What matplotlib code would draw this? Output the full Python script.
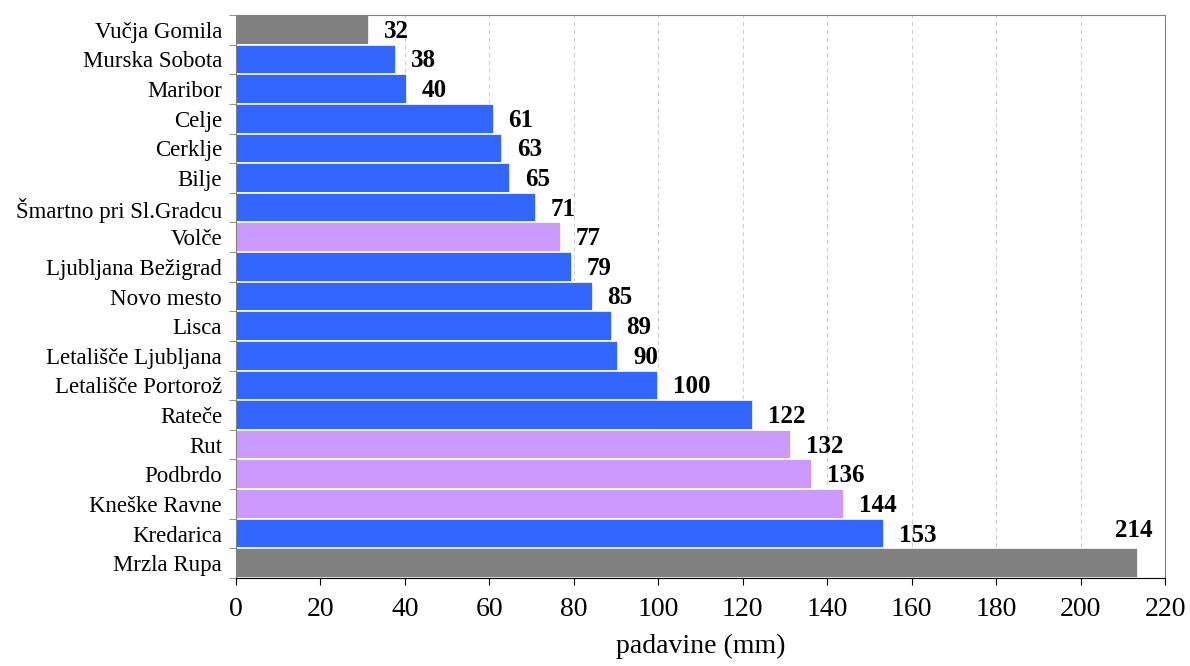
import matplotlib.pyplot as plt
import numpy as np

stations = ['Vučja Gomila', 'Murska Sobota', 'Maribor', 'Celje', 'Cerklje', 'Bilje',
            'Šmartno pri Sl.Gradcu', 'Volče', 'Ljubljana Bežigrad', 'Novo mesto', 'Lisca',
            'Letališče Ljubljana', 'Letališče Portorož', 'Rateče', 'Rut', 'Podbrdo',
            'Kneške Ravne', 'Kredarica', 'Mrzla Rupa']
values = [32, 38, 40, 61, 63, 65, 71, 77, 79, 85, 89, 90, 100, 122, 132, 136, 144, 153, 214]
exact = [31.5, 38, 40.5, 61, 63, 65, 71, 77, 79.5, 84.5, 89, 90.5, 100, 122.5, 131.5, 136.5, 144, 153.5, 213.5]
kinds = ['g', 'b', 'b', 'b', 'b', 'b', 'b', 'p', 'b', 'b', 'b', 'b', 'b', 'b', 'p', 'p', 'p', 'b', 'g']
cmap = {'g': '#808080', 'b': '#3366FF', 'p': '#CC99FF'}

plt.rcParams['font.family'] = ['Liberation Serif', 'DejaVu Serif']
fig = plt.figure(figsize=(11.9, 6.66), dpi=100)
ax = fig.add_axes([236/1190, 1-578/666, 929/1190, 563/666])

y = np.arange(len(stations))
ax.barh(y, exact, height=1.0, color=[cmap[k] for k in kinds], edgecolor='white', linewidth=1.2, zorder=2)
for yi, v, e in zip(y, values, exact):
    if v == 214:
        ax.text(e - 1, yi - 0.7, str(v), ha='center', va='bottom', fontsize=18, fontweight='bold')
    else:
        ax.text(e + 3.5, yi + 0.05, str(v), ha='left', va='center', fontsize=18, fontweight='bold')

ax.set_ylim(len(stations) - 0.5, -0.5)
ax.set_xlim(0, 220)
ax.set_xticks(np.arange(0, 221, 20))
ax.set_yticks(y)
ax.set_yticklabels(stations, fontsize=16.5)
ax.set_yticks(np.arange(-0.5, len(stations), 1), minor=True)
ax.tick_params(axis='y', which='major', length=0, pad=10)
ax.tick_params(axis='y', which='minor', length=5, color='#808080')
ax.tick_params(axis='x', labelsize=20, length=5, pad=9)
ax.grid(axis='x', linestyle=(0, (4, 3)), color='#d0d0d0', linewidth=0.8, zorder=0)
for s in ax.spines.values():
    s.set_color('#808080')
ax.spines['bottom'].set_color('black')
ax.set_xlabel('padavine (mm)', fontsize=20, labelpad=8)
fig.savefig('out.png')
